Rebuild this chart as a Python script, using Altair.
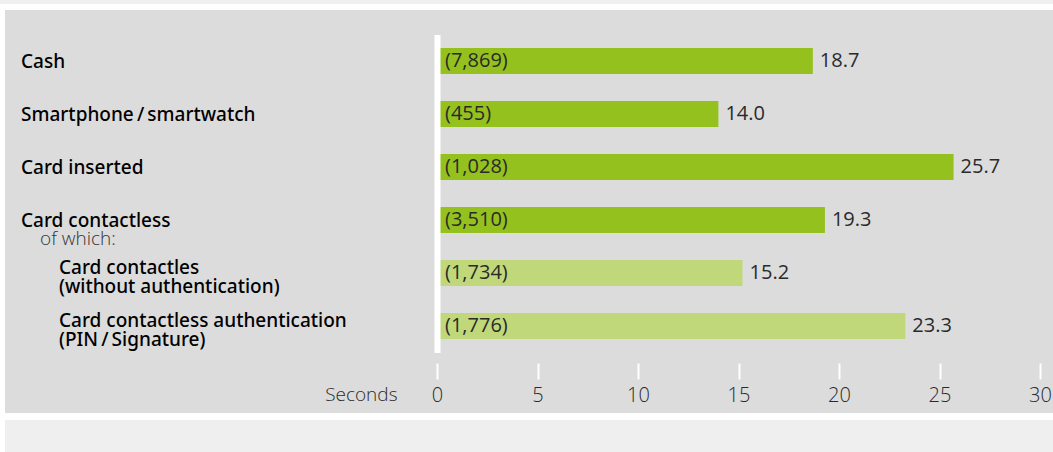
import altair as alt
import pandas as pd

# ---- data ----
categories = [
    "Cash",
    "Smartphone/smartwatch",
    "Card inserted",
    "Card contactless",
    "Card contactles (without authentication)",
    "Card contactless authentication (PIN/Signature)",
]
display_labels = [
    "Cash",
    "Smartphone\u2009/\u2009smartwatch",
    "Card inserted",
    "Card contactless",
    "Card contactles\n(without authentication)",
    "Card contactless authentication\n(PIN\u2009/\u2009Signature)",
]
levels = ["main", "main", "main", "main", "sub", "sub"]
seconds = [18.7, 14.0, 25.7, 19.3, 15.2, 23.3]
counts = [7869, 455, 1028, 3510, 1734, 1776]
x_ticks = [0, 5, 10, 15, 20, 25, 30]
subheading = "of which:"
axis_title = "Seconds"

df = pd.DataFrame({
    "category": categories,
    "label": display_labels,
    "level": levels,
    "seconds": seconds,
    "count": counts,
})
df["count_label"] = ["(" + f"{c:,}" + ")" for c in counts]
df["value_label"] = [f"{v:.1f}" for v in seconds]

FONT = "Open Sans"
LABEL_FONT = "Noto Sans"
W, H = 603, 318

y_scale = alt.Scale(domain=categories, paddingInner=0.509, paddingOuter=0.2547)
y_enc = alt.Y("category:N", scale=y_scale, sort=categories,
              axis=alt.Axis(labels=False, ticks=False, title=None, domain=True,
                            domainColor="white", domainWidth=6, zindex=1))
x_scale = alt.Scale(domain=[0, 30], nice=False)

one = pd.DataFrame({"k": [0]})

top_band = alt.Chart(one).mark_rect(color="#f0f0f0").encode(
    x=alt.value(-437), x2=alt.value(616), y=alt.value(-34.5), y2=alt.value(-30.5))
panel = alt.Chart(one).mark_rect(color="#dcdcdc").encode(
    x=alt.value(-432), x2=alt.value(616), y=alt.value(-24.5), y2=alt.value(378.5))
bottom_band = alt.Chart(one).mark_rect(color="#efefef").encode(
    x=alt.value(-432), x2=alt.value(616), y=alt.value(385.5), y2=alt.value(417.5))

base = alt.Chart(df)

bars = base.mark_bar().encode(
    x=alt.X("seconds:Q", scale=x_scale,
            axis=alt.Axis(values=x_ticks, grid=False, domain=False,
                          tickColor="white", tickWidth=2, tickSize=16,
                          offset=10.5, labelFont=FONT, labelFontSize=20,
                          labelFontWeight=300, labelColor="#2a2a2a",
                          labelPadding=6, title=axis_title, titleFont=FONT,
                          titleFontSize=19, titleFontWeight=300, titleColor="#2a2a2a",
                          titleX=-40, titleY=31.5, titleAlign="right",
                          titleBaseline="middle", titleAnchor="start",
                          labelFlush=False, zindex=1)),
    y=y_enc,
    color=alt.Color("level:N", scale=alt.Scale(domain=["main", "sub"],
                                               range=["#95c11f", "#c0d87a"]),
                    legend=None),
)

count_text = base.mark_text(align="left", baseline="middle", font=FONT,
                            fontSize=20, color="#2a2a2a").encode(
    x=alt.value(8), y=alt.Y("category:N", scale=y_scale, sort=categories),
    text="count_label:N")

value_text = base.mark_text(align="left", baseline="middle", dx=7, font=FONT,
                            fontSize=20, color="#2a2a2a").encode(
    x=alt.X("seconds:Q", scale=x_scale),
    y=alt.Y("category:N", scale=y_scale, sort=categories),
    text="value_label:N")

main_labels = base.transform_filter(alt.datum.level == "main").mark_text(
    align="left", baseline="middle", font=LABEL_FONT, fontSize=19, fontWeight=500,
    color="#000000", dy=1).encode(
    x=alt.value(-416), y=alt.Y("category:N", scale=y_scale, sort=categories),
    text="label:N")

sub_labels = base.transform_filter(alt.datum.level == "sub").mark_text(
    align="left", baseline="middle", font=LABEL_FONT, fontSize=19, fontWeight=500,
    color="#000000", lineBreak="\n", lineHeight=19, dy=-4.5).encode(
    x=alt.value(-378), y=alt.Y("category:N", scale=y_scale, sort=categories),
    text="label:N")

ofwhich = base.transform_filter(alt.datum.category == "Card contactless").mark_text(
    align="left", baseline="middle", font=FONT, fontSize=19, fontWeight=300,
    color="#333333", dy=19).encode(
    x=alt.value(-397), y=alt.Y("category:N", scale=y_scale, sort=categories),
    text=alt.value(subheading))

chart = alt.layer(
    top_band, panel, bottom_band, bars, count_text, value_text,
    main_labels, sub_labels, ofwhich,
).properties(
    width=W, height=H,
    padding={"left": 437, "top": 34.5, "right": 13, "bottom": 99.5},
    autosize=alt.AutoSizeParams(type="none"),
    background="white",
).configure_view(stroke=None)

chart.save("out.html", embed_options={"renderer": "svg", "actions": False})
